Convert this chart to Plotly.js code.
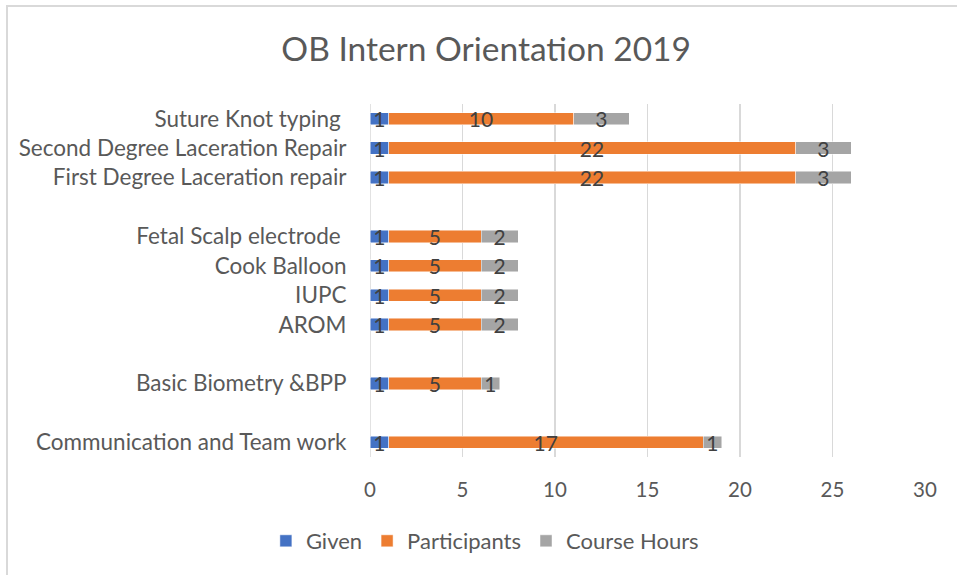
<!DOCTYPE html>
<html>
<head>
<meta charset="utf-8">
<script src="https://cdn.plot.ly/plotly-3.0.1.min.js"></script>
<style>
  html, body { margin: 0; padding: 0; background: #ffffff; overflow: hidden; }
  #wrap { position: relative; width: 957px; height: 575px; }
  #chart { position: absolute; left: 0; top: 0; width: 957px; height: 575px; }
  #frame { position: absolute; left: 6px; top: 5px; width: 970px; height: 590px;
           border: 2px solid #d9d9d9; box-sizing: border-box; pointer-events: none; }
</style>
</head>
<body>
<div id="wrap">
  <div id="chart"></div>
  <div id="frame"></div>
</div>
<script>
// Categories, bottom to top (blank entries are the empty gap rows)
const categories = [
  "Communication and Team work",
  " ",
  "Basic Biometry &BPP",
  "  ",
  "AROM",
  "IUPC",
  "Cook Balloon",
  "Fetal Scalp electrode ",
  "   ",
  "First Degree Laceration repair",
  "Second Degree Laceration Repair",
  "Suture Knot typing "
];
const given        = [1, null, 1, null, 1, 1, 1, 1, null, 1, 1, 1];
const participants = [17, null, 5, null, 5, 5, 5, 5, null, 22, 22, 10];
const courseHours  = [1, null, 1, null, 2, 2, 2, 2, null, 3, 3, 3];
const xTicks = [0, 5, 10, 15, 20, 25, 30];

const FONT = "Lato, 'Open Sans', sans-serif";
const labelText = arr => arr.map(v => (v === null ? "" : String(v)));

function barTrace(name, values, color) {
  return {
    type: "bar",
    orientation: "h",
    name: name,
    y: categories,
    x: values,
    text: labelText(values),
    textposition: "inside",
    insidetextanchor: "middle",
    constraintext: "none",
    textangle: 0,
    cliponaxis: false,
    textfont: { family: FONT, size: 21, color: "#404040" },
    marker: { color: color, line: { color: "rgba(255,255,255,0.6)", width: 0.8 } },
    hoverinfo: "name+x"
  };
}

const data = [
  barTrace("Given", given, "#4472C4"),
  barTrace("Participants", participants, "#ED7D31"),
  barTrace("Course Hours", courseHours, "#A5A5A5")
];

const layout = {
  width: 957,
  height: 575,
  paper_bgcolor: "#ffffff",
  plot_bgcolor: "#ffffff",
  barmode: "stack",
  bargap: 0.58,
  margin: { l: 370, r: 32, t: 104, b: 118 },
  font: { family: FONT, color: "#595959" },
  title: {
    text: "OB Intern Orientation 2019",
    font: { family: FONT, size: 33.5, color: "#595959" },
    x: 0.508, xanchor: "center",
    y: 1 - 49 / 575, yanchor: "middle"
  },
  xaxis: {
    range: [0, 30],
    tickvals: xTicks,
    ticktext: xTicks.map(String),
    showgrid: true,
    gridcolor: "#d9d9d9",
    gridwidth: 1.5,
    zeroline: false,
    showline: false,
    ticks: "outside",
    ticklen: 14,
    tickcolor: "rgba(0,0,0,0)",
    tickfont: { family: FONT, size: 20.5, color: "#595959" },
    fixedrange: true
  },
  yaxis: {
    type: "category",
    categoryorder: "array",
    categoryarray: categories,
    showgrid: false,
    zeroline: false,
    showline: false,
    ticks: "outside",
    ticklen: 18,
    tickcolor: "rgba(0,0,0,0)",
    tickfont: { family: FONT, size: 22.5, color: "#595959" },
    fixedrange: true
  },
  shapes: [{
    type: "line", xref: "x", yref: "paper",
    x0: 0, x1: 0, y0: 0, y1: 1,
    line: { color: "#d9d9d9", width: 1.5 },
    layer: "below"
  }],
  showlegend: true,
  legend: {
    orientation: "h",
    x: 0.207, xanchor: "center",
    y: -0.238, yanchor: "middle",
    font: { family: FONT, size: 22, color: "#595959" },
    traceorder: "normal",
    itemwidth: 30
  }
};

Plotly.newPlot("chart", data, layout, { displayModeBar: false, staticPlot: true });
</script>
</body>
</html>
